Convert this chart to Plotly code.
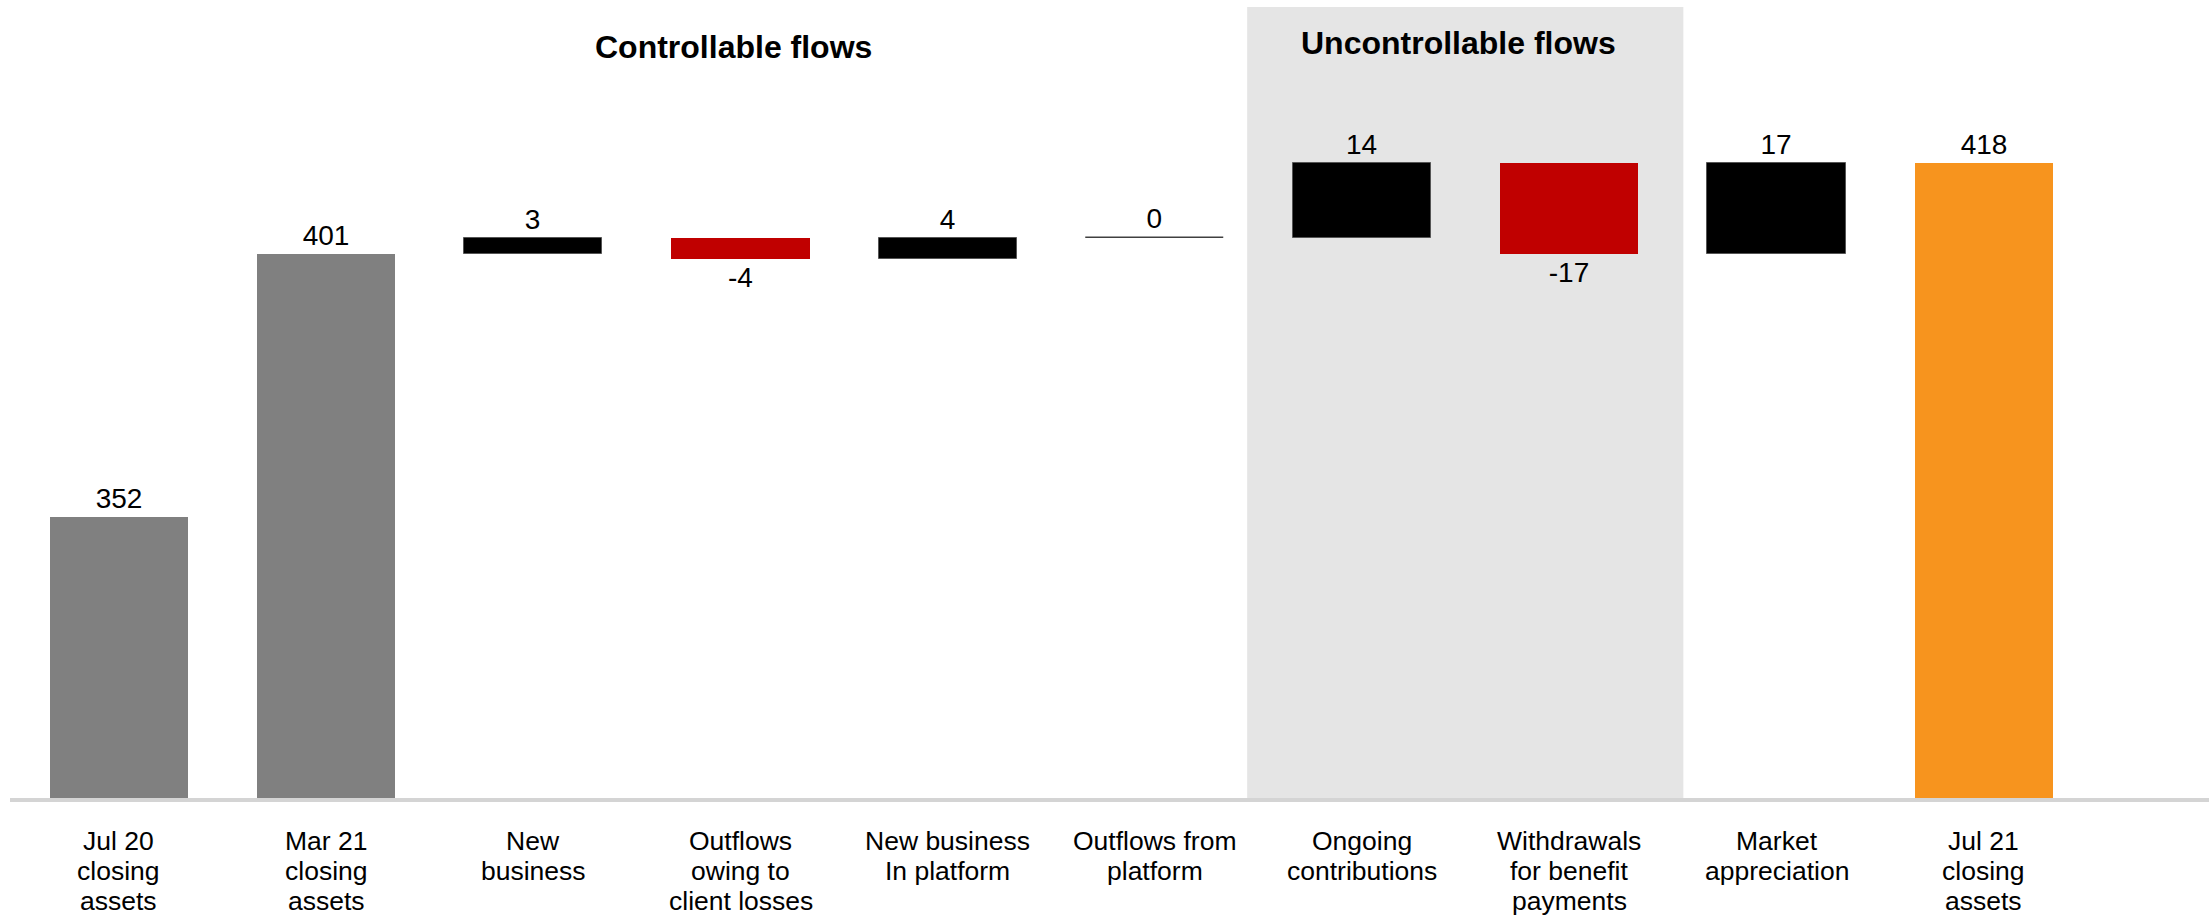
import plotly.graph_objects as go

# Asset bridge: opening/closing totals and the flows between them
categories = [
    "Jul 20\nclosing\nassets",
    "Mar 21\nclosing\nassets",
    "New\nbusiness",
    "Outflows\nowing to\nclient losses",
    "New business\nIn platform",
    "Outflows from\nplatform",
    "Ongoing\ncontributions",
    "Withdrawals\nfor benefit\npayments",
    "Market\nappreciation",
    "Jul 21\nclosing\nassets",
]
values = [352, 401, 3, -4, 4, 0, 14, -17, 17, 418]
kinds = ["total", "total", "flow", "flow", "flow", "flow", "flow", "flow", "flow", "total"]

group_titles = ["Controllable flows", "Uncontrollable flows"]

FONT = "Liberation Sans, Arial, sans-serif"
GREY, BLACK, RED, ORANGE = "#808080", "#000000", "#C00000", "#F7941E"

# Build floating bars: totals rise from zero, flows start at the running total
bases, heights, fills, edge_colors, edge_widths = [], [], [], [], []
running = 0
for i, (v, k) in enumerate(zip(values, kinds)):
    if k == "total":
        bases.append(0)
        heights.append(v)
        running = v
        fills.append(ORANGE if i == len(values) - 1 else GREY)
        edge_colors.append(fills[-1])
        edge_widths.append(0)
    else:
        bases.append(running)
        heights.append(v)
        running += v
        if v > 0:
            fills.append(BLACK)
            edge_colors.append("#555555")
            edge_widths.append(1)
        elif v < 0:
            fills.append(RED)
            edge_colors.append(RED)
            edge_widths.append(0)
        else:
            fills.append("#404040")
            edge_colors.append("#404040")
            edge_widths.append(1.5)

x = list(range(len(values)))

fig = go.Figure()
fig.add_trace(go.Bar(
    x=x,
    y=heights,
    base=bases,
    width=0.667,
    marker=dict(color=fills, line=dict(color=edge_colors, width=edge_widths)),
    text=[str(v) for v in values],
    textposition="outside",
    textfont=dict(family=FONT, size=28, color="#000000"),
    constraintext="none",
    hoverinfo="skip",
    showlegend=False,
))

# Shaded band behind the uncontrollable flows
fig.add_shape(
    type="rect", xref="x", yref="paper",
    x0=5.445, x1=7.55, y0=0, y1=1,
    fillcolor="#E5E5E5", line=dict(width=0), layer="below",
)

annotations = []
# Group headings
annotations.append(dict(
    text="<b>%s</b>" % group_titles[0], x=2.968, xref="x", y=1, yref="paper",
    yanchor="top", xanchor="center", yshift=-20, showarrow=False,
    font=dict(family=FONT, size=32, color="#000000"),
))
annotations.append(dict(
    text="<b>%s</b>" % group_titles[1], x=6.467, xref="x", y=1, yref="paper",
    yanchor="top", xanchor="center", yshift=-16, showarrow=False,
    font=dict(family=FONT, size=32, color="#000000"),
))
# Category labels, one line at a time for tighter leading
for i, lab in enumerate(categories):
    for k, line in enumerate(lab.split("\n")):
        annotations.append(dict(
            text=line, x=i, xref="x", y=0, yref="paper",
            yanchor="top", xanchor="center", yshift=-(26 + 30 * k),
            showarrow=False,
            font=dict(family=FONT, size=26.5, color="#000000"),
        ))

fig.update_layout(
    width=2209, height=919,
    margin=dict(l=10, r=0, t=7, b=121, pad=0),
    paper_bgcolor="white", plot_bgcolor="white",
    font=dict(family=FONT, color="#000000"),
    bargap=0,
    annotations=annotations,
    xaxis=dict(
        range=[-0.526, 10.087], showgrid=False, zeroline=False,
        showticklabels=False, ticks="",
        showline=True, linecolor="#D4D4D4", linewidth=4,
    ),
    yaxis=dict(range=[299.7, 447.0], visible=False, showgrid=False, zeroline=False),
)

fig.write_html("out.html")
